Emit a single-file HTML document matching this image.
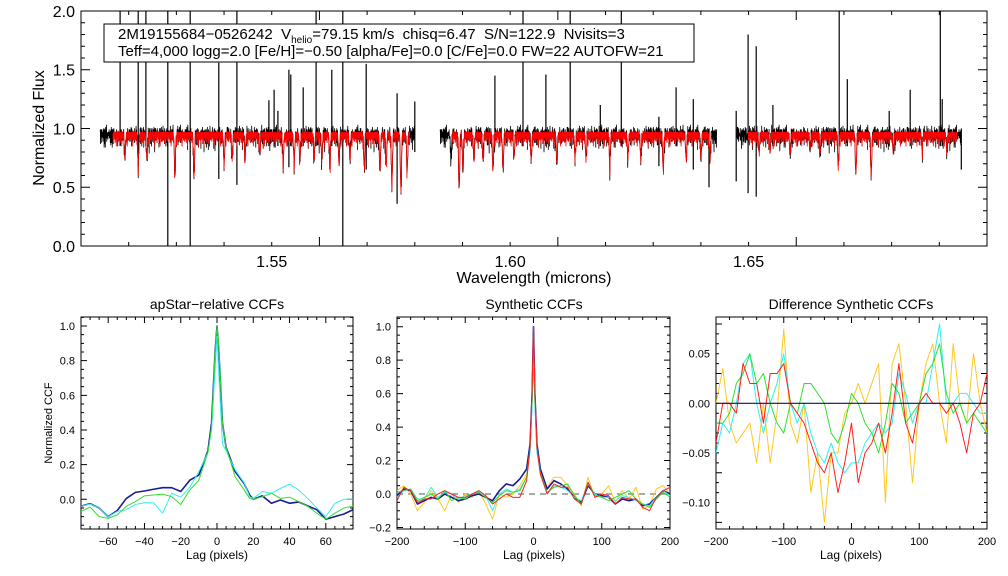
<!DOCTYPE html>
<html><head><meta charset="utf-8"><style>
html,body{margin:0;padding:0;background:#fff}
svg{display:block;font-family:"Liberation Sans",sans-serif}
text{white-space:pre}
</style></head><body>
<svg id="fig" width="1008" height="576" viewBox="0 0 1008 576" xmlns="http://www.w3.org/2000/svg">
<defs>
<clipPath id="c0"><rect x="81" y="11" width="906" height="235"/></clipPath>
<clipPath id="c1"><rect x="81" y="317" width="272" height="212"/></clipPath>
<clipPath id="c2"><rect x="397" y="317" width="273" height="212"/></clipPath>
<clipPath id="c3"><rect x="716" y="317" width="271" height="212"/></clipPath>
</defs>
<rect width="1008" height="576" fill="#fff"/>
<g id="top"></g>
<g id="p1"></g>
<g id="p2"></g>
<g id="p3"></g>
<g>
<rect x="104" y="24" width="590" height="38" fill="#fff" stroke="#000" stroke-width="1"/>
<text x="118" y="39" font-size="15" xml:space="preserve">2M19155684−0526242  V<tspan font-size="10" dy="4">helio</tspan><tspan dy="-4">=79.15 km/s  chisq=6.47  S/N=122.9  Nvisits=3</tspan></text>
<text x="118" y="56" font-size="15">Teff=4,000 logg=2.0 [Fe/H]=−0.50 [alpha/Fe]=0.0 [C/Fe]=0.0 FW=22 AUTOFW=21</text>
</g>
</svg>
<script>
// ---------- spectrum data ----------
const seg1Black=[1.5140,1.5800], seg2Black=[1.5853,1.6434], seg3Black=[1.6474,1.6946];
const seg1Red=[1.5167,1.5790], seg2Red=[1.5878,1.6423], seg3Red=[1.6499,1.6937];
const lineWave=[1.5192,1.5220,1.5238,1.5297,1.5337,1.5400,1.5417,1.5444,1.5475,1.5524,1.5547,1.5559,1.5589,1.5605,1.5622,1.5641,1.5664,1.5694,1.5727,1.5740,1.5752,1.5771,1.5784,
1.5876,1.5893,1.5901,1.5924,1.5943,1.5964,1.5985,1.6008,1.6044,1.6098,1.6136,1.6159,1.6209,1.6247,1.6274,1.6321,1.6369,1.6400,1.6419,
1.6522,1.6545,1.6587,1.6629,1.6650,1.6688,1.6725,1.6757,1.6803,1.6864,1.6916];
const lineDepth=[0.2,0.25,0.2,0.36,0.37,0.25,0.2,0.2,0.15,0.25,0.25,0.22,0.2,0.22,0.25,0.25,0.2,0.28,0.3,0.25,0.42,0.48,0.3,
0.2,0.47,0.3,0.2,0.2,0.3,0.3,0.2,0.2,0.25,0.2,0.2,0.25,0.2,0.2,0.3,0.2,0.2,0.2,
0.15,0.12,0.15,0.12,0.15,0.27,0.33,0.34,0.12,0.12,0.12];
const modelRough=[0,-0.03,-0.01,-0.06,0,-0.02,-0.09,-0.01,0,-0.04,-0.02,-0.12,0,-0.01,-0.05,-0.02,0,-0.07,-0.03,0,-0.015,-0.08,-0.01];
const obsNoise=[0.02,-0.03,0.04,-0.01,0.0,-0.05,0.03,0.01,-0.02,0.05,-0.04,0.0,0.02,-0.06,0.03,-0.01,0.04,-0.02,0.0,-0.03,0.06,-0.01,0.02,-0.04,0.01,0.03,-0.05,0.0,0.02,-0.02,0.04];
const spikeWave=[1.5182,1.5220,1.5236,1.5282,1.5329,1.5389,1.5427,1.5494,1.5505,1.5513,1.5536,1.5540,1.5566,1.5593,1.5626,1.5649,1.5698,1.5763,1.5800,
1.5968,1.6027,1.6075,1.6126,1.6189,1.6233,1.6312,1.6348,1.6384,1.6417,
1.6474,1.6499,1.6516,1.6551,1.6690,1.6707,1.6795,1.6839,1.6902,1.6906,1.6946];
const spikeHigh=[2.1,2.1,2.1,2.1,2.1,1.56,2.1,1.24,1.33,1.15,1.5,1.46,1.35,2.1,1.5,2.1,1.55,1.3,1.23,
1.45,2.1,1.46,2.1,1.2,2.1,1.1,1.35,1.25,1.0,
1.15,1.8,1.7,1.2,2.1,1.42,1.15,1.33,2.1,1.25,1.0];
const spikeLow=[0.85,0.68,0.85,0.0,0.0,0.57,0.52,0.85,0.85,0.85,0.67,0.85,0.85,0.85,0.85,0.0,0.65,0.36,0.8,
0.85,0.85,0.85,0.85,0.85,0.85,0.68,0.85,0.65,0.5,
0.55,0.45,0.42,0.85,0.85,0.85,0.85,0.85,0.85,0.85,0.65];
const wlTicks=["1.55","1.60","1.65"];
const fluxTicks=["0.0","0.5","1.0","1.5","2.0"];

// ---------- CCF data ----------
const lag1=[-75,-70,-65,-60,-55,-50,-45,-40,-35,-30,-25,-20,-15,-10,-5,-3,-1,0,1,3,5,10,15,18,20,25,30,35,40,45,50,55,60,65,70,75];
const ccf1Blue=[-0.04,-0.025,-0.05,-0.1,-0.065,0.005,0.04,0.048,0.058,0.067,0.067,0.045,0.11,0.14,0.28,0.44,0.86,1.0,0.86,0.44,0.3,0.16,0.09,0.025,0.0,0.02,-0.023,-0.004,-0.023,-0.015,-0.038,-0.06,-0.115,-0.1,-0.085,-0.06];
const ccf1Cyan=[-0.04,-0.027,-0.05,-0.1,-0.07,-0.06,-0.03,-0.02,-0.02,-0.08,0.035,0.012,0.07,0.16,0.27,0.4,0.75,0.94,0.72,0.32,0.28,0.17,0.095,0.015,0.005,0.045,0.035,0.063,0.087,0.054,0.005,-0.05,-0.1,-0.023,0.0,0.0];
const ccf1Green=[-0.07,-0.045,-0.1,-0.11,-0.09,-0.04,-0.013,0.02,0.025,0.03,0.015,-0.03,0.054,0.11,0.27,0.42,0.86,1.0,0.88,0.44,0.3,0.13,0.054,0.005,0.0,0.015,0.035,0.005,0.012,-0.013,-0.04,-0.08,-0.115,-0.08,-0.05,-0.04];
const lag2=[-200,-190,-180,-170,-160,-150,-140,-130,-120,-110,-100,-90,-80,-70,-60,-50,-40,-30,-20,-10,-5,-2,0,2,5,10,20,30,40,50,60,70,80,90,100,110,120,130,140,150,160,170,180,190,200];
const ccf2Blue=[-0.01,0.03,0.02,-0.06,-0.04,-0.02,-0.03,0.0,-0.02,-0.04,-0.03,-0.01,0.0,-0.02,-0.04,0.02,0.06,0.05,0.09,0.15,0.3,0.6,1.0,0.6,0.3,0.15,0.03,0.08,0.06,0.03,-0.02,-0.05,0.05,0.0,-0.01,-0.02,-0.06,-0.03,-0.04,-0.03,-0.07,-0.06,-0.02,0.02,0.0];
const ccf2Cyan=[-0.02,0.02,0.03,-0.03,-0.03,0.04,-0.02,0.01,0.0,-0.03,-0.01,0.0,0.02,-0.01,-0.1,0.0,0.03,0.01,0.03,0.1,0.25,0.55,0.9,0.55,0.25,0.12,0.0,0.05,0.04,0.02,-0.02,-0.04,0.06,0.0,-0.02,-0.02,-0.04,-0.01,-0.02,-0.04,-0.06,-0.07,-0.02,0.02,-0.01];
const ccf2Green=[0.01,0.02,0.03,-0.04,-0.02,0.0,-0.03,0.02,-0.04,-0.02,-0.03,0.0,0.01,-0.02,-0.05,-0.01,0.02,0.01,0.02,0.1,0.28,0.58,0.95,0.58,0.28,0.13,0.01,0.04,0.05,0.06,-0.01,-0.06,0.07,-0.01,-0.02,-0.04,-0.02,0.0,0.02,-0.03,-0.06,-0.08,-0.03,0.01,-0.02];
const ccf2Yellow=[0.02,0.05,0.0,-0.1,-0.05,0.02,-0.03,-0.1,0.0,-0.05,0.0,-0.02,0.02,-0.06,-0.15,0.0,-0.02,0.0,0.05,0.12,0.3,0.6,0.98,0.6,0.3,0.14,0.04,0.1,0.1,0.05,0.0,-0.07,0.1,-0.02,0.0,0.05,-0.05,0.02,-0.03,0.04,-0.09,-0.07,0.03,0.05,0.0];
const ccf2Red=[-0.04,0.04,0.02,-0.05,-0.03,-0.03,0.0,0.02,0.0,-0.02,-0.02,0.0,0.02,-0.01,-0.06,-0.03,0.0,-0.02,-0.02,0.08,0.28,0.62,1.0,0.62,0.28,0.12,0.0,0.06,0.04,0.04,-0.03,-0.06,0.07,-0.02,0.0,-0.01,-0.06,-0.02,-0.03,-0.03,-0.08,-0.1,-0.02,0.02,0.04];
const lag3=[-200,-190,-180,-170,-160,-150,-140,-130,-120,-110,-100,-90,-80,-70,-60,-50,-40,-30,-20,-10,0,10,20,30,40,50,60,70,80,90,100,110,120,130,140,150,160,170,180,190,200];
const diffRed=[-0.04,0.0,0.0,-0.01,0.04,0.02,0.02,-0.02,0.03,0.03,0.04,0.0,-0.01,-0.02,-0.04,-0.06,-0.07,-0.05,-0.09,-0.06,-0.02,-0.08,-0.05,-0.04,-0.02,-0.05,-0.01,0.04,-0.02,-0.04,0.0,0.01,0.0,0.0,-0.01,0.0,-0.02,-0.05,-0.01,0.0,0.03];
const diffCyan=[-0.05,-0.02,-0.03,0.0,0.04,0.05,0.0,-0.03,0.0,0.02,0.05,0.0,-0.02,0.0,-0.03,-0.05,-0.06,-0.04,-0.06,-0.07,-0.06,-0.06,-0.04,-0.03,-0.02,-0.03,-0.02,0.03,0.01,-0.02,0.0,0.0,0.04,0.08,0.0,0.0,0.01,0.01,0.0,-0.01,-0.01];
const diffGreen=[-0.02,-0.02,-0.01,0.02,0.03,0.05,0.02,0.03,0.0,-0.02,-0.03,0.0,-0.01,0.02,0.02,0.01,0.0,-0.03,-0.04,-0.02,0.01,0.0,-0.02,-0.03,-0.05,-0.02,0.02,0.01,-0.02,-0.01,0.0,0.03,0.04,0.06,0.01,-0.01,0.0,-0.02,-0.01,-0.02,-0.03];
const diffYellow=[0.0,0.035,-0.02,-0.04,-0.03,-0.02,-0.06,0.0,-0.06,-0.01,0.075,-0.02,-0.04,0.0,-0.09,-0.05,-0.12,-0.05,-0.05,-0.01,0.0,0.02,0.0,0.02,0.04,-0.1,0.04,0.06,0.0,-0.08,0.0,0.04,0.06,0.0,-0.04,0.06,0.0,-0.02,0.05,0.0,-0.03];

const NS="http://www.w3.org/2000/svg";
function mk(tag,attrs,parent){const e=document.createElementNS(NS,tag);for(const k in attrs)e.setAttribute(k,attrs[k]);parent.appendChild(e);return e;}
function lin(d0,d1,r0,r1){return v=>r0+(v-d0)*(r1-r0)/(d1-d0);}

function frame(g,x0,y0,x1,y1,sx,sy,xMaj,xMin,yMaj,yMin,xLab,yLab,fs,majL,minL,xr,yr){
  const box=mk('rect',{x:x0,y:y0,width:x1-x0,height:y1-y0,fill:'none',stroke:'#000','stroke-width':1},g);
  
  
  let d='';
  const ticks=(arr,len,axis)=>{arr.forEach(v=>{
    if(axis==='x'){const x=sx(v);if(x<x0-0.5||x>x1+0.5)return;d+=`M${x},${y1}V${y1-len}M${x},${y0}V${y0+len}`;}
    else{const y=sy(v);if(y<y0-0.5||y>y1+0.5)return;d+=`M${x0},${y}H${x0+len}M${x1},${y}H${x1-len}`;}});};
  const rng=(a,b,s)=>{const r=[];for(let v=a;v<=b+s/1000;v+=s)r.push(+v.toFixed(6));return r;};
  ticks(rng(xr[0],xr[1],xMin),minL,'x');ticks(rng(xr[0],xr[1],xMaj),majL,'x');
  ticks(rng(yr[0],yr[1],yMin),minL,'y');ticks(rng(yr[0],yr[1],yMaj),majL,'y');
  const tp=mk('path',{d:d,stroke:'#000','stroke-width':1,fill:'none'},g);
  
  
  xLab.forEach(s=>{const t=mk('text',{x:sx(parseFloat(s)),y:y1+fs+5,'font-size':fs,'text-anchor':'middle'},g);t.textContent=s.replace('-','−');
    
    });
  yLab.forEach(s=>{const t=mk('text',{x:x0-6,y:sy(parseFloat(s))+fs*0.36,'font-size':fs,'text-anchor':'end'},g);t.textContent=s.replace('-','−');
    
    });
}
function poly(g,xs,ys,sx,sy,color,w,clip,name){
  let d='';xs.forEach((v,i)=>{d+=(i?'L':'M')+sx(v).toFixed(2)+','+sy(ys[i]).toFixed(2);});
  const p=mk('path',{d:d,stroke:color,'stroke-width':w,fill:'none','clip-path':`url(#${clip})`,'stroke-linejoin':'round'},g);
  
  
}

// ---------- top spectrum ----------
(function(){
  const g=document.getElementById('top');
  const sx=lin(1.51,1.70,81,987), sy=lin(0,2,246,11);
  const step=0.00005, W=0.00016;
  function model(l,i){let f=0.97+modelRough[i%modelRough.length];
    for(let k=0;k<lineWave.length;k++){const z=(l-lineWave[k])/W;if(Math.abs(z)<4)f-=lineDepth[k]*Math.exp(-z*z);}return f;}
  function series(seg,isObs){const xs=[],ys=[];let i=Math.round(seg[0]/step);
    for(let l=seg[0];l<=seg[1];l+=step,i++){let f=model(l,i);if(isObs)f+=obsNoise[i%obsNoise.length];xs.push(l);ys.push(f);}return [xs,ys];}
  [seg1Black,seg2Black,seg3Black].forEach(s=>{const [xs,ys]=series(s,true);poly(g,xs,ys,sx,sy,'#000',0.8,'c0','observed-spectrum');});
  let d='';spikeWave.forEach((l,k)=>{d+=`M${sx(l).toFixed(1)},${sy(spikeHigh[k])}V${sy(spikeLow[k])}`;});
  const sp=mk('path',{d:d,stroke:'#000','stroke-width':1.2,fill:'none','clip-path':'url(#c0)'},g);
  
  
  [seg1Red,seg2Red,seg3Red].forEach(s=>{const [xs,ys]=series(s,false);poly(g,xs,ys,sx,sy,'#ff0000',0.8,'c0','model-spectrum');});
  frame(g,81,11,987,246,sx,sy,0.05,0.01,0.5,0.1,wlTicks,fluxTicks,16,9,4,[1.51,1.70],[0,2]);
  const xt=mk('text',{x:534,y:283,'font-size':16,'text-anchor':'middle'},g);xt.textContent='Wavelength (microns)';
  
  
  const yt=mk('text',{x:44,y:128,'font-size':16,'text-anchor':'middle',transform:'rotate(-90 44 128)'},g);yt.textContent='Normalized Flux';
  
  
})();

function title(g,x,y,s){const t=mk('text',{x:x,y:y,'font-size':14,'text-anchor':'middle'},g);t.textContent=s;
  
  }
function xtitle(g,x,s){const t=mk('text',{x:x,y:559,'font-size':12,'text-anchor':'middle'},g);t.textContent=s;
  
  }

// ---------- panel 1 ----------
(function(){
  const g=document.getElementById('p1');
  const sx=lin(-75,75,81,353), sy=lin(0,1,499.3,326);
  frame(g,81,317,353,529,sx,sy,20,5,0.2,0.05,["-60","-40","-20","0","20","40","60"],["0.0","0.2","0.4","0.6","0.8","1.0"],11,6,3,[-80,80],[-0.2,1.05]);
  poly(g,lag1,ccf1Blue,sx,sy,'#1a1a9a',1.6,'c1','ccf-blue');
  poly(g,lag1,ccf1Cyan,sx,sy,'#30f0f0',1,'c1','ccf-cyan');
  poly(g,lag1,ccf1Green,sx,sy,'#30e030',1,'c1','ccf-green');
  title(g,217,309,'apStar−relative CCFs');xtitle(g,217,'Lag (pixels)');
  const yt=mk('text',{x:52,y:423,'font-size':11,'text-anchor':'middle',transform:'rotate(-90 52 423)'},g);yt.textContent='Normalized CCF';
  
  
})();

// ---------- panel 2 ----------
(function(){
  const g=document.getElementById('p2');
  const sx=lin(-200,200,397,670), sy=lin(0,1,494,326.7);
  frame(g,397,317,670,529,sx,sy,100,20,0.2,0.05,["-200","-100","0","100","200"],["-0.2","0.0","0.2","0.4","0.6","0.8","1.0"],11,6,3,[-200,200],[-0.2,1.05]);
  const z=mk('line',{x1:397,x2:670,y1:sy(0),y2:sy(0),stroke:'#777','stroke-width':1.2,'stroke-dasharray':'6,5'},g);
  
  
  poly(g,lag2,ccf2Yellow,sx,sy,'#ffc820',1,'c2','ccf-yellow');
  poly(g,lag2,ccf2Blue,sx,sy,'#1a1a9a',1.6,'c2','ccf-blue');
  poly(g,lag2,ccf2Cyan,sx,sy,'#30f0f0',1,'c2','ccf-cyan');
  poly(g,lag2,ccf2Green,sx,sy,'#30e030',1,'c2','ccf-green');
  poly(g,lag2,ccf2Red,sx,sy,'#ff2020',1,'c2','ccf-red');
  title(g,534,309,'Synthetic CCFs');xtitle(g,534,'Lag (pixels)');
})();

// ---------- panel 3 ----------
(function(){
  const g=document.getElementById('p3');
  const sx=lin(-200,200,716,987), sy=lin(0,0.05,403.3,353.7);
  frame(g,716,317,987,529,sx,sy,100,20,0.05,0.01,["-200","-100","0","100","200"],["-0.10","-0.05","0.00","0.05"],11,6,3,[-200,200],[-0.12,0.08]);
  poly(g,lag3,diffYellow,sx,sy,'#ffc820',1,'c3','diff-yellow');
  poly(g,lag3,diffCyan,sx,sy,'#30f0f0',1,'c3','diff-cyan');
  poly(g,lag3,diffGreen,sx,sy,'#30e030',1,'c3','diff-green');
  poly(g,lag3,diffRed,sx,sy,'#ff2020',1,'c3','diff-red');
  const z=mk('line',{x1:716,x2:987,y1:sy(0),y2:sy(0),stroke:'#101060','stroke-width':1.2},g);
  
  
  title(g,851,309,'Difference Synthetic CCFs');xtitle(g,851,'Lag (pixels)');
})();
</script>
</body></html>
